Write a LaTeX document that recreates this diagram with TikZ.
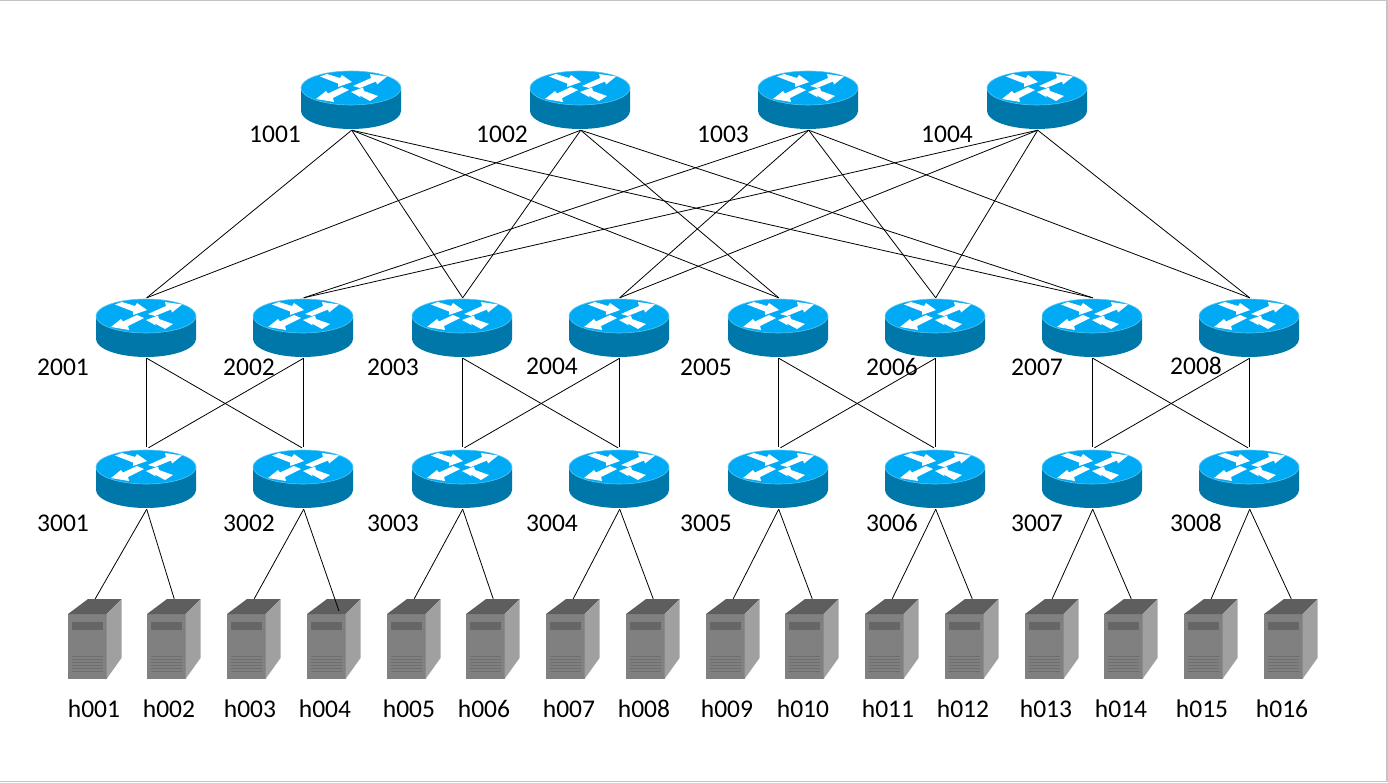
\documentclass[tikz,border=0pt]{standalone}
\usepackage{fontspec}
\setmainfont{Carlito}
\definecolor{rtop}{HTML}{00AAF5}
\definecolor{rside}{HTML}{0077A9}
\definecolor{redge}{HTML}{55C5F0}
\definecolor{hfront}{HTML}{808080}
\definecolor{htop}{HTML}{5E5E5E}
\definecolor{hside}{HTML}{A0A0A0}
\definecolor{hbar}{HTML}{666666}
\definecolor{hvent}{HTML}{6E6E6E}
\definecolor{frame}{HTML}{C4C4C4}
\tikzset{
  x=1pt,y=-1pt,
  routerbox/.style={inner sep=0pt,minimum width=100pt,minimum height=60pt},
  hostbox/.style={inner sep=0pt,minimum width=53pt,minimum height=80pt},
  lbl/.style={inner sep=0pt,font=\fontsize{25.5}{25.5}\selectfont,text=black},
  link/.style={draw=black,line width=0.8pt},
  toplink/.style={link,shorten >=2pt},
  framerule/.style={draw=frame,line width=1.5pt},
  routerpic/.pic={
    \fill[rside] (-50,0) -- (-50,23) arc[x radius=50,y radius=-18,start angle=180,end angle=360] -- (50,0) -- cycle;
    \fill[rtop,draw=redge,line width=0.6pt] (0,0) ellipse[x radius=50,y radius=17];
    \fill[white] (-31,-11.5)--(-24,-14)--(-11,-10)--(-9,-13)--(1,-6)--(-13,-1)--(-13,-4.5)--cycle;
    \fill[white] (2,-2)--(20,-10)--(19,-14)--(36,-11.5)--(26,-3.5)--(25,-6.5)--(9,0)--cycle;
    \fill[white] (-2,2)--(-18,10)--(-17,14)--(-35,11)--(-25,3)--(-23,5.5)--(-9,-1)--cycle;
    \fill[white] (0,4)--(12,-0.5)--(13,3)--(27,8)--(19,13)--(8,7)--(10,9.5)--cycle;
  },
  hostpic/.pic={
    \fill[hfront] (0,15) rectangle (38.5,80);
    \fill[htop] (0,15)--(20,0)--(53.5,0)--(38.5,15)--cycle;
    \fill[hside] (38.5,15)--(53.5,0)--(53.5,59)--(38.5,80)--cycle;
    \fill[hbar] (4,23) rectangle (34.5,31);
    \foreach \v in {57,60,63,66,69,72}
      \draw[hvent,line width=0.8pt] (4,\v) -- (34.5,\v);
  },
}
\newcommand{\routerat}[3]{%
  \pic at (#2,#3+17) {routerpic};
  \node[routerbox] (#1) at (#2+0.7,#3+29) {};
}
\newcommand{\hostat}[3]{%
  \pic at (#2,599) {hostpic};
  \node[hostbox] (#1) at (#2+27.2,639) {};
  \node[lbl] (l#1) at (#3,709) {#1};
}
\begin{document}
\begin{tikzpicture}
\useasboundingbox (0,0) rectangle (1388,783);
\fill[white] (0,0) rectangle (1388,783);
\draw[framerule] (0,0.5) -- (1388,0.5);
\draw[framerule] (1387.2,0) -- (1387.2,782);
\draw[framerule] (0,781.5) -- (1388,781.5);
% core
\routerat{r1001}{351}{71}
\routerat{r1002}{580}{71}
\routerat{r1003}{808}{71}
\routerat{r1004}{1037}{71}
% aggregation
\routerat{r2001}{146}{299}
\routerat{r2002}{303}{299}
\routerat{r2003}{462}{299}
\routerat{r2004}{619}{299}
\routerat{r2005}{778}{299}
\routerat{r2006}{935}{299}
\routerat{r2007}{1092}{299}
\routerat{r2008}{1249}{299}
% edge
\routerat{r3001}{146}{450}
\routerat{r3002}{303}{450}
\routerat{r3003}{462}{450}
\routerat{r3004}{619}{450}
\routerat{r3005}{778}{450}
\routerat{r3006}{935}{450}
\routerat{r3007}{1092}{450}
\routerat{r3008}{1249}{450}
% hosts
\hostat{h001}{68}{94}
\hostat{h002}{147}{169}
\hostat{h003}{227}{250}
\hostat{h004}{307}{325}
\hostat{h005}{387}{409}
\hostat{h006}{466}{484}
\hostat{h007}{546}{569}
\hostat{h008}{626}{644}
\hostat{h009}{706}{727}
\hostat{h010}{785}{803}
\hostat{h011}{865}{888}
\hostat{h012}{945}{963}
\hostat{h013}{1025}{1046}
\hostat{h014}{1104}{1121}
\hostat{h015}{1184}{1202}
\hostat{h016}{1264}{1282}
% labels
\node[lbl] (t1001) at (275,134) {1001};
\node[lbl] (t1002) at (502,134) {1002};
\node[lbl] (t1003) at (723,134) {1003};
\node[lbl] (t1004) at (947,134) {1004};
\node[lbl] (t2001) at (63,367) {2001};
\node[lbl] (t2002) at (249,367) {2002};
\node[lbl] (t2003) at (393,367) {2003};
\node[lbl] (t2004) at (552,366) {2004};
\node[lbl] (t2005) at (706,367) {2005};
\node[lbl] (t2006) at (892,367) {2006};
\node[lbl] (t2007) at (1037,367) {2007};
\node[lbl] (t2008) at (1196,366) {2008};
\node[lbl] (t3001) at (63,523) {3001};
\node[lbl] (t3002) at (249,523) {3002};
\node[lbl] (t3003) at (393,523) {3003};
\node[lbl] (t3004) at (552,523) {3004};
\node[lbl] (t3005) at (706,523) {3005};
\node[lbl] (t3006) at (892,523) {3006};
\node[lbl] (t3007) at (1037,523) {3007};
\node[lbl] (t3008) at (1196,523) {3008};
% core-aggregation links
\foreach \a in {1001,1002}
  \foreach \b in {2001,2003,2005,2007}
    \draw[link] (r\a.south) -- (r\b.north);
\foreach \a in {1003,1004}
  \foreach \b in {2002,2004,2006,2008}
    \draw[link] (r\a.south) -- (r\b.north);
% aggregation-edge links
\foreach \a/\b in {2001/3001,2002/3002,2003/3003,2004/3004,2005/3005,2006/3006,2007/3007,2008/3008,
                   2001/3002,2002/3001,2003/3004,2004/3003,2005/3006,2006/3005,2007/3008,2008/3007}
  \draw[toplink] (r\a.south) -- (r\b.north);
% edge-host links
\foreach \a/\b in {3001/h001,3001/h002,3002/h003,3003/h005,3003/h006,3004/h007,3004/h008,
                   3005/h009,3005/h010,3006/h011,3006/h012,3007/h013,3007/h014,3008/h015,3008/h016}
  \draw[link] (r\a.south) -- (\b.north);
\coordinate (h004end) at (339,611);
\draw[link] (r3002.south) -- (h004end);
\end{tikzpicture}
\end{document}
